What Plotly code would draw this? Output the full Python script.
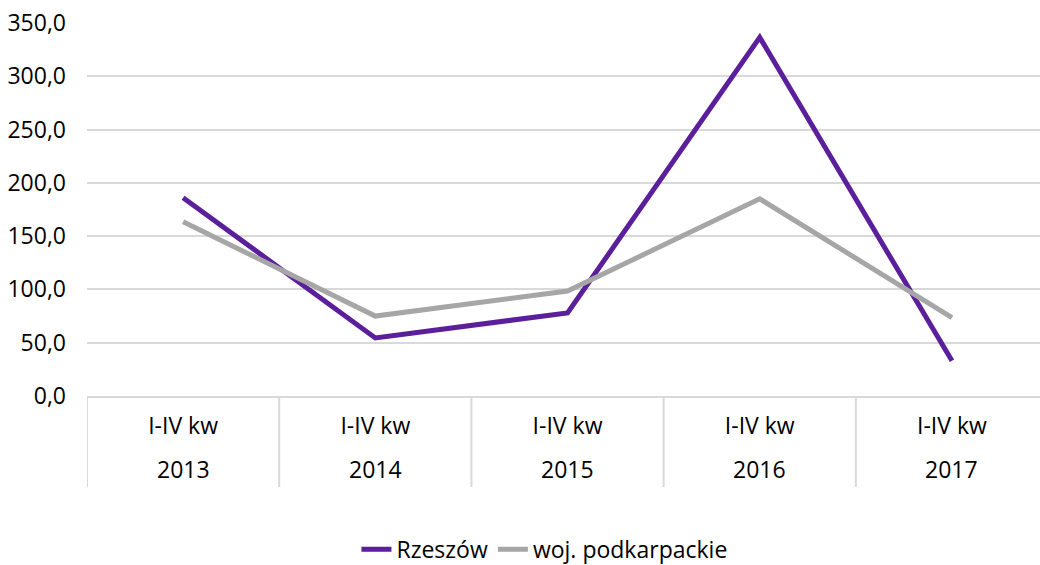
import plotly.graph_objects as go

years = ["2013", "2014", "2015", "2016", "2017"]
period = ["I-IV kw"] * 5
rzeszow = [186.0, 54.5, 78.0, 336.5, 33.0]
podkarpackie = [163.5, 75.0, 98.5, 185.0, 73.5]
y_ticks = [0, 50, 100, 150, 200, 250, 300, 350]
y_labels = ["0,0", "50,0", "100,0", "150,0", "200,0", "250,0", "300,0", "350,0"]

FONT = "Open Sans"
GRID = "#d9d9d9"
SIZE = 23

fig = go.Figure()
fig.add_trace(
    go.Scatter(
        x=years,
        y=rzeszow,
        mode="lines",
        name="Rzeszów",
        line=dict(color="#5b1f9b", width=5),
    )
)
fig.add_trace(
    go.Scatter(
        x=years,
        y=podkarpackie,
        mode="lines",
        name="woj. podkarpackie",
        line=dict(color="#a6a6a6", width=5),
    )
)

# year row under the "I-IV kw" tick labels (x as category index)
for i, yr in enumerate(years):
    fig.add_annotation(
        x=i, y=-0.196, xref="x", yref="paper",
        text=yr, showarrow=False, yanchor="middle",
        font=dict(size=SIZE),
    )

# category dividers running through the label area
for i in range(len(years)):
    fig.add_shape(
        type="line", xref="x", yref="paper",
        x0=i - 0.5, x1=i - 0.5, y0=0, y1=-0.244,
        line=dict(color=GRID, width=2),
    )

fig.update_layout(
    width=1040,
    height=565,
    margin=dict(l=87, r=0, t=23, b=169),
    paper_bgcolor="white",
    plot_bgcolor="white",
    font=dict(family=FONT, size=SIZE, color="#000000"),
    showlegend=True,
    legend=dict(
        orientation="h",
        x=0.48,
        xanchor="center",
        yref="container",
        y=0.028,
        yanchor="middle",
        font=dict(size=SIZE),
        itemwidth=30,
    ),
    xaxis=dict(
        type="category",
        range=[-0.5, 4.458],
        tickvals=years,
        ticktext=period,
        showline=True,
        linecolor=GRID,
        linewidth=2,
        showgrid=False,
        ticks="",
        ticklabelstandoff=8,
        automargin=False,
    ),
    yaxis=dict(
        range=[0, 350],
        tickvals=y_ticks,
        ticktext=y_labels,
        showgrid=True,
        gridcolor=GRID,
        gridwidth=1.5,
        zeroline=False,
        showline=False,
        ticks="",
        ticklabelstandoff=20,
        automargin=False,
    ),
)

fig.write_html(
    "out.html",
    config={"displayModeBar": False},
    post_script="document.body.style.margin='0';",
)
